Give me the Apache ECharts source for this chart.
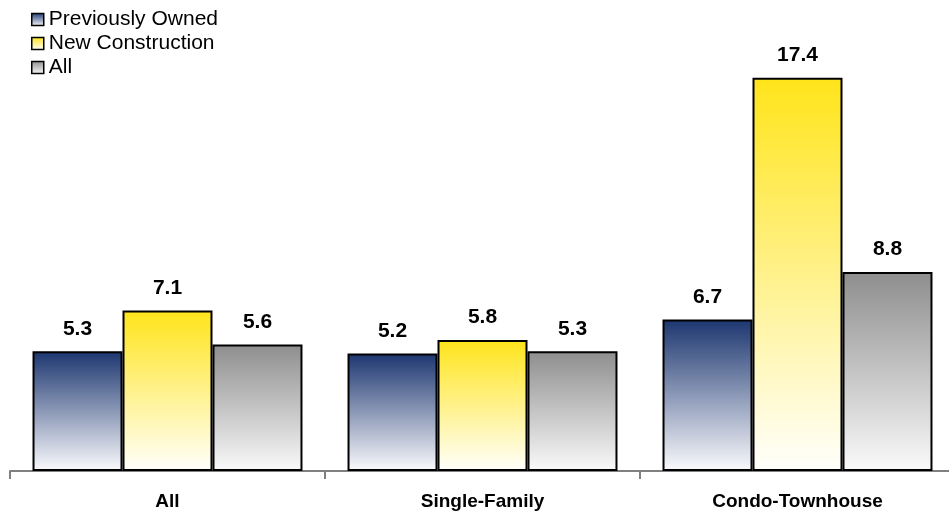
<!DOCTYPE html>
<html>
<head>
<meta charset="utf-8">
<script src="https://cdn.jsdelivr.net/npm/echarts@6/dist/echarts.min.js"></script>
<style>
  html, body { margin: 0; padding: 0; background: #ffffff; overflow: hidden; }
  /* The plot runs a few pixels past the right edge of the window */
  #chart { width: 955px; height: 512px; }
</style>
</head>
<body>
<div id="chart"></div>
<script>
// Property types on the category axis
const categories = ['All', 'Single-Family', 'Condo-Townhouse'];

// Months of supply per series
const previouslyOwned = [5.3, 5.2, 6.7];
const newConstruction = [7.1, 5.8, 17.4];
const allHomes = [5.6, 5.3, 8.8];

const seriesNames = ['Previously Owned', 'New Construction', 'All'];

const FONT = 'Liberation Sans, Arial, sans-serif';

// Vertical fade from a top colour down to near-white
function fade(top, bottom) {
  return new echarts.graphic.LinearGradient(0, 0, 0, 1, [
    { offset: 0, color: top },
    { offset: 1, color: bottom }
  ]);
}

const fills = [
  fade('#1c3670', '#fbfbfd'),
  fade('#ffe41a', '#fffffc'),
  fade('#8e8e8e', '#fafafa')
];

function barSeries(name, data, fill) {
  return {
    name: name,
    type: 'bar',
    data: data,
    barGap: '0%',
    barCategoryGap: '14.3%',
    itemStyle: { color: fill, borderColor: '#000000', borderWidth: 2 },
    label: {
      show: true,
      position: 'top',
      distance: 12,
      fontFamily: FONT,
      fontWeight: 'bold',
      fontSize: 21,
      color: '#000000',
      formatter: p => p.value.toFixed(1)
    }
  };
}

const chart = echarts.init(document.getElementById('chart'));
chart.setOption({
  animation: false,
  backgroundColor: '#ffffff',
  legend: {
    orient: 'vertical',
    left: 31,
    top: 9,
    padding: 0,
    itemWidth: 12,
    itemHeight: 12,
    itemGap: 3,
    icon: 'rect',
    data: seriesNames,
    itemStyle: { borderColor: '#000000', borderWidth: 1.5 },
    textStyle: {
      fontFamily: FONT,
      fontSize: 21,
      color: '#000000'
    }
  },
  grid: { left: 10, top: 19, right: 0, height: 452, containLabel: false },
  xAxis: {
    type: 'category',
    data: categories,
    axisLine: { lineStyle: { color: '#808080', width: 2 } },
    axisTick: { show: true, length: 8, lineStyle: { color: '#808080', width: 2 } },
    axisLabel: {
      margin: 21,
      fontFamily: FONT,
      fontWeight: 'bold',
      fontSize: 19,
      color: '#000000'
    }
  },
  yAxis: {
    type: 'value',
    min: 0,
    max: 20,
    show: false,
    splitLine: { show: false }
  },
  series: [
    barSeries(seriesNames[0], previouslyOwned, fills[0]),
    barSeries(seriesNames[1], newConstruction, fills[1]),
    barSeries(seriesNames[2], allHomes, fills[2])
  ]
});
</script>
</body>
</html>
